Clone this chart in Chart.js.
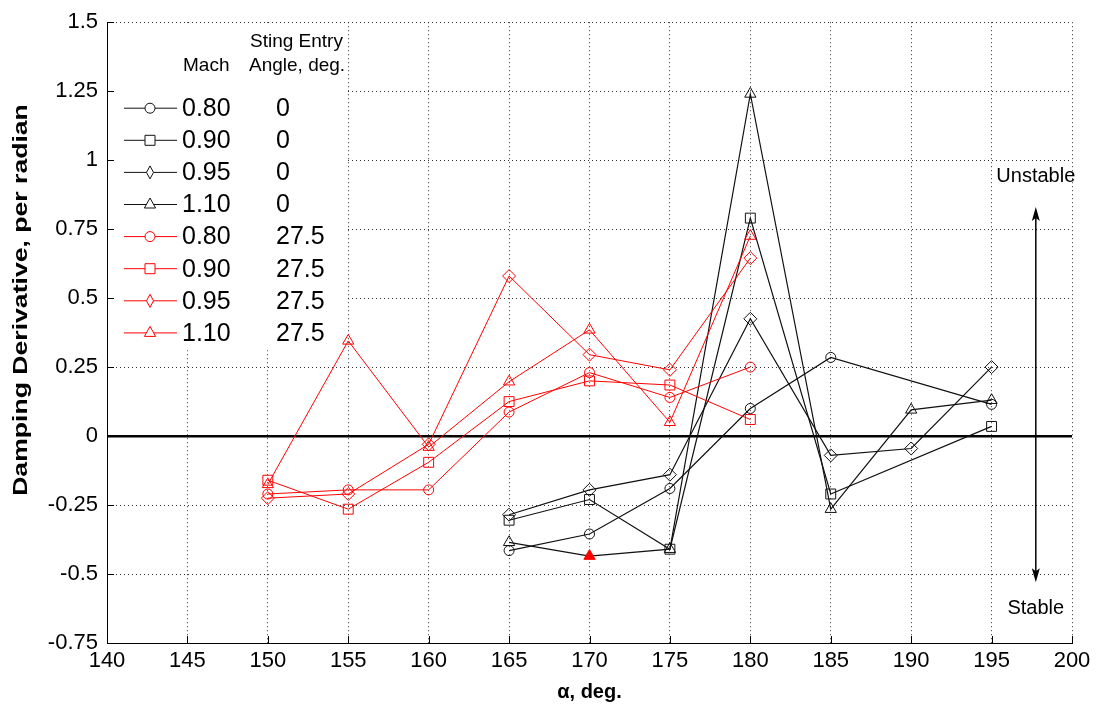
<!DOCTYPE html>
<html>
<head>
<meta charset="utf-8">
<script src="https://cdn.jsdelivr.net/npm/chart.js@4/dist/chart.umd.min.js"></script>
<style>
  html, body { margin: 0; background: #fff; }
  #wrap { width: 1102px; height: 710px; }
</style>
</head>
<body>
<div id="wrap"><canvas id="chart"></canvas></div>
<script>
// angle of attack, deg.
const alphaSting0Short = [165, 170, 175, 180, 185, 195];
const alphaSting0Full = [165, 170, 175, 180, 185, 190, 195];
const alphaSting275 = [150, 155, 160, 165, 170, 175, 180];

// damping derivative, sting entry angle 0
const mach080Sting0 = [-0.415, -0.355, -0.19, 0.10, 0.285, 0.115];
const mach090Sting0 = [-0.305, -0.23, -0.41, 0.79, -0.21, 0.035];
const mach095Sting0 = [-0.285, -0.195, -0.14, 0.425, -0.07, -0.045, 0.25];
const mach110Sting0 = [-0.385, -0.435, -0.41, 1.24, -0.265, 0.095, 0.13];

// damping derivative, sting entry angle 27.5
const mach080Sting275 = [-0.21, -0.195, -0.195, 0.087, 0.23, 0.14, 0.25];
const mach090Sting275 = [-0.16, -0.265, -0.095, 0.125, 0.20, 0.185, 0.06];
const mach095Sting275 = [-0.225, -0.21, -0.03, 0.58, 0.295, 0.24, 0.645];
const mach110Sting275 = [-0.175, 0.345, -0.04, 0.197, 0.385, 0.05, 0.725];

const machLabels = ['0.80', '0.90', '0.95', '1.10'];
const stingLabels = ['0', '27.5'];

const xTicks = [140, 145, 150, 155, 160, 165, 170, 175, 180, 185, 190, 195, 200];
const yTicks = [-0.75, -0.5, -0.25, 0, 0.25, 0.5, 0.75, 1, 1.25, 1.5];

const FONT = "'Liberation Sans', Arial, Helvetica, sans-serif";
const BLACK = '#111111';
const RED = '#ff0000';
const markerRadius = { circle: 5, rect: 7, rectRot: 6.5, triangle: 6.5 };
const markerStyles = ['circle', 'rect', 'rectRot', 'triangle'];

function pts(xs, ys) {
    return xs.map((x, i) => ({ x: x, y: ys[i] }));
}

function makeSet(xs, ys, machIdx, stingIdx) {
    const color = stingIdx === 0 ? BLACK : RED;
    const style = markerStyles[machIdx];
    return {
        label: machLabels[machIdx] + ' / ' + stingLabels[stingIdx],
        mach: machLabels[machIdx],
        sting: stingLabels[stingIdx],
        data: pts(xs, ys),
        borderColor: color,
        borderWidth: stingIdx === 0 ? 1.2 : 1,
        pointStyle: style,
        pointRadius: markerRadius[style],
        pointBorderColor: color,
        pointBackgroundColor: 'rgba(0,0,0,0)',
        pointBorderWidth: 1,
        tension: 0,
        fill: false
    };
}

const datasets = [
    makeSet(alphaSting275, mach080Sting275, 0, 1),
    makeSet(alphaSting275, mach090Sting275, 1, 1),
    makeSet(alphaSting275, mach095Sting275, 2, 1),
    makeSet(alphaSting275, mach110Sting275, 3, 1),
    makeSet(alphaSting0Short, mach080Sting0, 0, 0),
    makeSet(alphaSting0Short, mach090Sting0, 1, 0),
    makeSet(alphaSting0Full, mach095Sting0, 2, 0),
    makeSet(alphaSting0Full, mach110Sting0, 3, 0)
];
// the highlighted point (filled red triangle) on Mach 1.10, sting 0
datasets[7].pointBackgroundColor = ctx => ctx.dataIndex === 1 ? RED : 'rgba(0,0,0,0)';
datasets[7].pointBorderColor = ctx => ctx.dataIndex === 1 ? RED : BLACK;

// legend order: sting 0 first, then 27.5
const legendOrder = [4, 5, 6, 7, 0, 1, 2, 3];

function drawMarker(ctx, style, x, y, color, narrow) {
    ctx.save();
    ctx.strokeStyle = color;
    ctx.lineWidth = 1;
    ctx.fillStyle = '#fff';
    ctx.beginPath();
    if (style === 'circle') {
        ctx.arc(x, y, 5, 0, Math.PI * 2);
    } else if (style === 'rect') {
        ctx.rect(x - 5, y - 5, 10, 10);
    } else if (style === 'rectRot') {
        const w = narrow ? 3.5 : 6;
        ctx.moveTo(x, y - 6.5); ctx.lineTo(x + w, y); ctx.lineTo(x, y + 6.5); ctx.lineTo(x - w, y); ctx.closePath();
    } else {
        ctx.moveTo(x, y - 6.5); ctx.lineTo(x + 5.6, y + 3.5); ctx.lineTo(x - 5.6, y + 3.5); ctx.closePath();
    }
    ctx.fill();
    ctx.stroke();
    ctx.restore();
}

const overlayPlugin = {
    id: 'overlay',
    beforeDatasetsDraw(chart) {
        // white legend panel hides the grid behind it
        const ctx = chart.ctx;
        const a = chart.chartArea;
        ctx.save();
        ctx.fillStyle = '#fff';
        ctx.fillRect(a.left + 1, a.top + 1, 238, 327);
        ctx.restore();
    },
    afterDatasetsDraw(chart) {
        const ctx = chart.ctx;
        const xs = chart.scales.x, ys = chart.scales.y;
        const left = chart.chartArea.left, top = chart.chartArea.top;

        ctx.save();
        // y axis title, stretched along its length like the original figure
        ctx.save();
        ctx.translate(21, 300);
        ctx.rotate(-Math.PI / 2);
        ctx.scale(1.33, 1);
        ctx.font = 'bold 20px ' + FONT;
        ctx.fillStyle = '#000';
        ctx.textAlign = 'center';
        ctx.textBaseline = 'middle';
        ctx.fillText('Damping Derivative, per radian', 0, 0);
        ctx.restore();

        // legend
        ctx.fillStyle = '#000';
        ctx.textBaseline = 'middle';
        ctx.font = '19px ' + FONT;
        ctx.textAlign = 'left';
        ctx.fillText('Mach', left + 76, top + 44);
        ctx.fillText('Sting Entry', left + 143, top + 20);
        ctx.fillText('Angle, deg.', left + 142, top + 44);
        ctx.font = '25px ' + FONT;
        legendOrder.forEach((di, row) => {
            const ds = chart.data.datasets[di];
            const y = top + 86 + row * 32.1;
            const color = ds.borderColor;
            ctx.strokeStyle = color;
            ctx.lineWidth = 1;
            ctx.beginPath();
            ctx.moveTo(left + 17, y);
            ctx.lineTo(left + 70, y);
            ctx.stroke();
            drawMarker(ctx, ds.pointStyle, left + 43, y, color, true);
            ctx.fillStyle = '#000';
            ctx.fillText(ds.mach, left + 75, y + 1);
            ctx.fillText(ds.sting, left + 169, y + 1);
        });

        // stability arrow
        const ax = xs.getPixelForValue(197.75);
        const yTop = ys.getPixelForValue(0.83);
        const yBot = ys.getPixelForValue(-0.53);
        ctx.strokeStyle = '#000';
        ctx.fillStyle = '#000';
        ctx.lineWidth = 1.5;
        ctx.beginPath();
        ctx.moveTo(ax, yTop + 10);
        ctx.lineTo(ax, yBot - 10);
        ctx.stroke();
        ctx.beginPath();
        ctx.moveTo(ax, yTop); ctx.lineTo(ax + 4, yTop + 14); ctx.lineTo(ax, yTop + 11); ctx.lineTo(ax - 4, yTop + 14); ctx.closePath();
        ctx.fill();
        ctx.beginPath();
        ctx.moveTo(ax, yBot); ctx.lineTo(ax + 4, yBot - 14); ctx.lineTo(ax, yBot - 11); ctx.lineTo(ax - 4, yBot - 14); ctx.closePath();
        ctx.fill();
        ctx.font = '20px ' + FONT;
        ctx.textAlign = 'center';
        ctx.fillText('Unstable', ax, ys.getPixelForValue(0.94));
        ctx.fillText('Stable', ax, ys.getPixelForValue(-0.625));

        // inward tick marks on the solid axes
        ctx.lineWidth = 1;
        ctx.strokeStyle = '#000';
        ctx.beginPath();
        yTicks.forEach(v => {
            const py = Math.round(ys.getPixelForValue(v)) + 0.5;
            ctx.moveTo(left, py); ctx.lineTo(left + 7, py);
        });
        xTicks.forEach(v => {
            const px = Math.round(xs.getPixelForValue(v)) + 0.5;
            ctx.moveTo(px, chart.chartArea.bottom); ctx.lineTo(px, chart.chartArea.bottom - 7);
        });
        ctx.stroke();
        ctx.restore();
    }
};

new Chart(document.getElementById('chart'), {
    type: 'line',
    data: { datasets: datasets },
    plugins: [overlayPlugin],
    options: {
        responsive: true,
        maintainAspectRatio: false,
        animation: false,
        layout: { padding: { top: 17, right: 30, left: 0, bottom: 0 } },
        plugins: {
            legend: { display: false },
            tooltip: { enabled: false }
        },
        scales: {
            x: {
                type: 'linear',
                min: 140,
                max: 200,
                afterBuildTicks: scale => { scale.ticks = xTicks.map(v => ({ value: v })); },
                afterFit: scale => { scale.height = 67; },
                ticks: {
                    color: '#000',
                    padding: 5,
                    font: { family: FONT, size: 22 },
                    maxRotation: 0,
                    autoSkip: false,
                    callback: v => String(v)
                },
                grid: {
                    color: 'rgba(0,0,0,0.8)',
                    lineWidth: 1,
                    drawTicks: false
                },
                border: { display: true, color: '#000', width: 1, dash: ctx => ctx.tick ? [1, 3] : [] },
                title: {
                    display: true,
                    text: 'α, deg.',
                    color: '#000',
                    font: { family: FONT, size: 20, weight: 'bold' },
                    padding: { top: 0, bottom: 6 }
                }
            },
            y: {
                type: 'linear',
                min: -0.75,
                max: 1.5,
                afterBuildTicks: scale => { scale.ticks = yTicks.map(v => ({ value: v })); },
                afterFit: scale => { scale.width = 107; },
                ticks: {
                    color: '#000',
                    padding: 9,
                    font: { family: FONT, size: 22 },
                    autoSkip: false,
                    callback: v => String(+v.toFixed(2))
                },
                grid: {
                    color: ctx => ctx.tick && ctx.tick.value === 0 ? '#000' : 'rgba(0,0,0,0.8)',
                    lineWidth: ctx => ctx.tick && ctx.tick.value === 0 ? 2.5 : 1,
                    drawTicks: false
                },
                border: {
                    display: true, color: '#000', width: 1,
                    dash: ctx => (ctx.tick && ctx.tick.value !== 0) ? [1, 3] : []
                },
                title: { display: false }
            }
        }
    }
});
</script>
</body>
</html>
